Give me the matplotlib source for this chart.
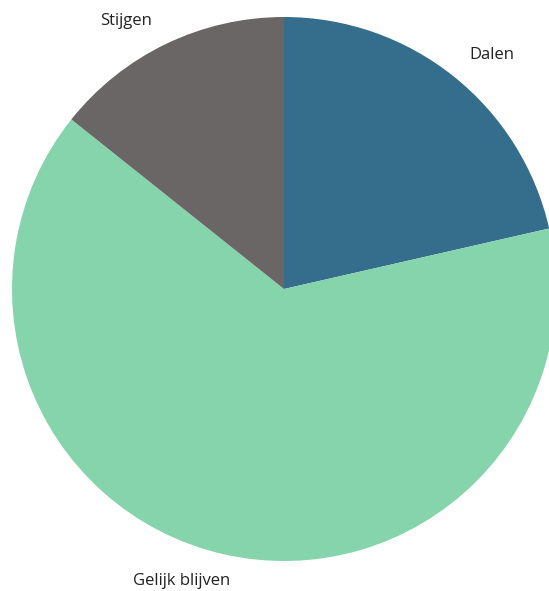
import matplotlib.pyplot as plt
import numpy as np

labels = ['Dalen', 'Gelijk blijven', 'Stijgen']
values = [3, 9, 2]
colors = ['#356E8C', '#85D4AB', '#696665']

# label offsets (radius factor, extra angle in degrees) to mimic the reference layout
label_radius = [1.15, 1.138, 1.144]
label_shift = [-3.0, -6.5, 4.8]

W, H = 549, 591
fig = plt.figure(figsize=(W / 100, H / 100), dpi=100)
ax = fig.add_axes([0, 0, 1, 1])

cx, cy, r = 284, H - 289, 272
wedges, _ = ax.pie(values, colors=colors, startangle=90, counterclock=False,
                   center=(cx, cy), radius=r, frame=True)
ax.set_xlim(0, W)
ax.set_ylim(0, H)
ax.set_aspect('equal')
ax.axis('off')

for w, lab, f, s in zip(wedges, labels, label_radius, label_shift):
    mid = np.deg2rad((w.theta1 + w.theta2) / 2 + s)
    ax.text(cx + f * r * np.cos(mid), cy + f * r * np.sin(mid), lab,
            ha='center', va='center', fontsize=12, family='Open Sans', color='#222222')

fig.savefig('out.png', dpi=100)
